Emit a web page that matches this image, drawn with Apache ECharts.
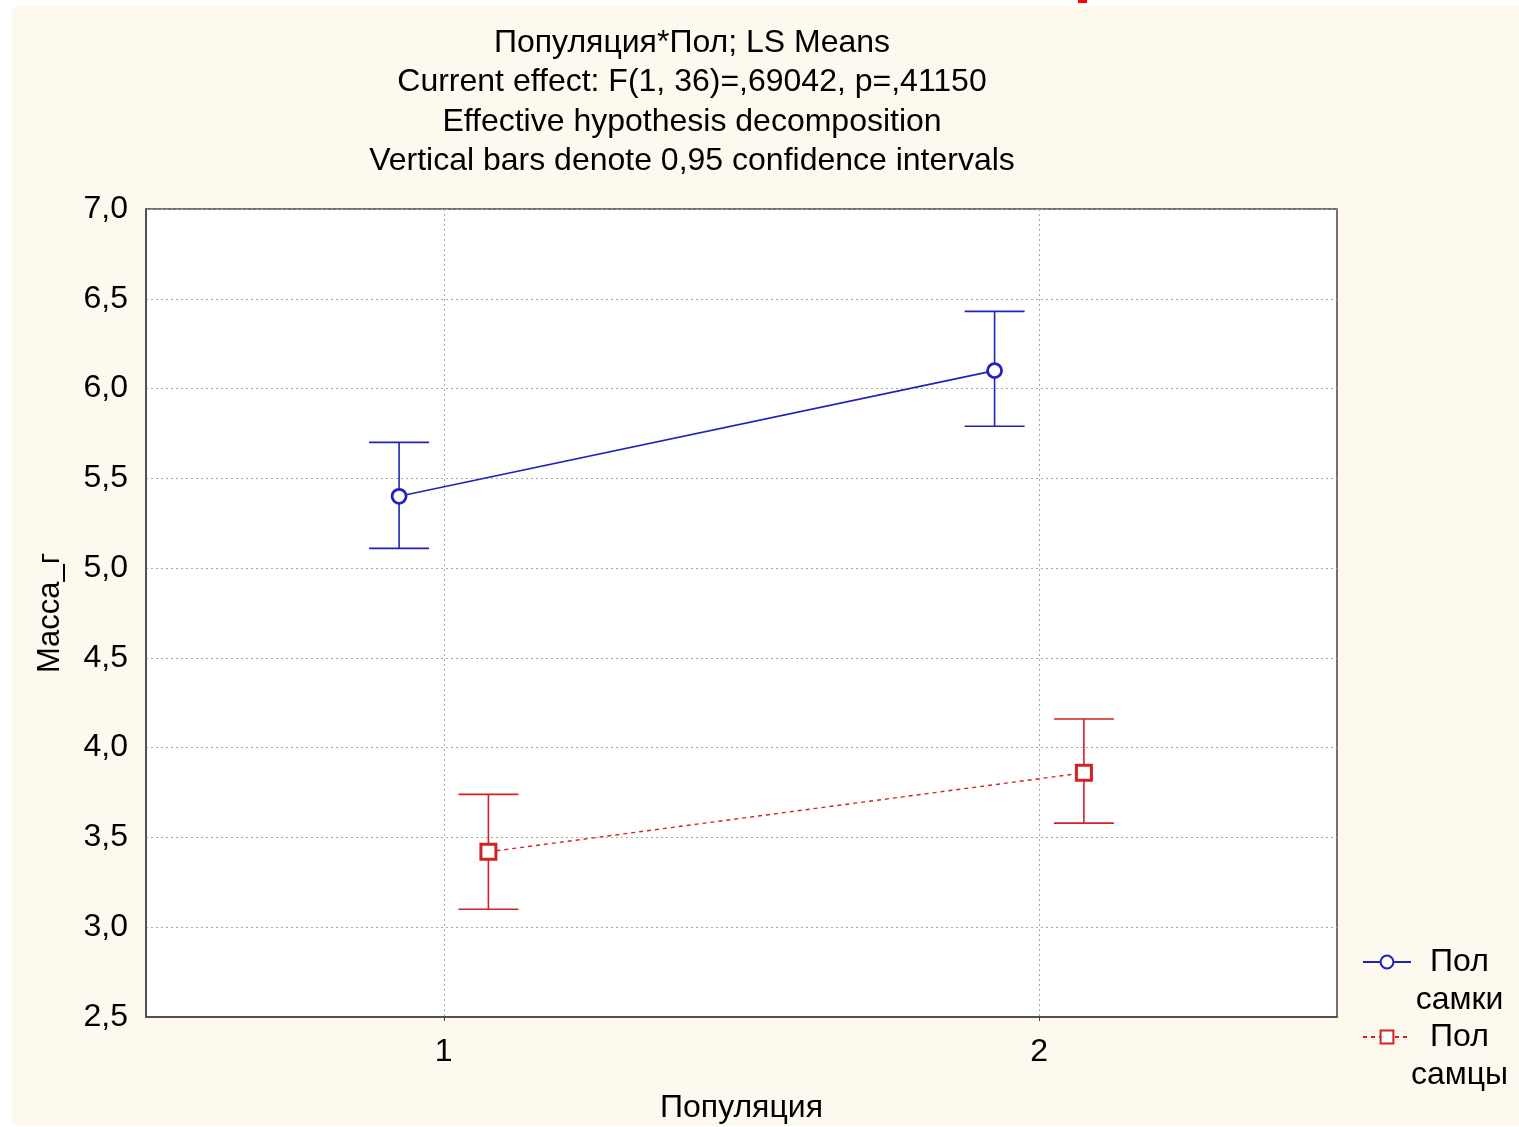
<!DOCTYPE html>
<html>
<head>
<meta charset="utf-8">
<script src="https://cdn.jsdelivr.net/npm/echarts@6/dist/echarts.min.js"></script>
<style>
html,body{margin:0;padding:0;background:#ffffff;}
#bg{position:absolute;left:12px;top:7px;width:1507px;height:1119px;background:#fef9ee;}
#chart{position:absolute;left:0;top:0;width:1519px;height:1127px;}
</style>
</head>
<body>
<div id="bg"></div>
<div id="chart"></div>
<script>
// ---- data ----
const titleLines = [
  'Популяция*Пол; LS Means',
  'Current effect: F(1, 36)=,69042, p=,41150',
  'Effective hypothesis decomposition',
  'Vertical bars denote 0,95 confidence intervals'
];
const populations = [1, 2];
const seriesNames = ['самки', 'самцы'];
const femaleMean = [5.40, 6.10];
const femaleLow  = [5.11, 5.79];
const femaleHigh = [5.70, 6.43];
const maleMean = [3.42, 3.86];
const maleLow  = [3.10, 3.58];
const maleHigh = [3.74, 4.16];
const dodge = [-0.075, 0.075]; // horizontal shift of each group around the population
const yTicks = [2.5, 7.0, 0.5]; // min, max, step

const BLUE = '#2222b8';
const RED = '#d42222';
const FONT = 'Liberation Sans, Arial, sans-serif';

const chart = echarts.init(document.getElementById('chart'), null, {renderer: 'canvas'});

function pts(mean, d) { return populations.map((p, i) => [p + d, mean[i]]); }
function bars(low, high, d) { return populations.map((p, i) => [p + d, low[i], high[i]]); }

function errRender(color) {
  return function (params, api) {
    const x = api.value(0);
    const lo = api.coord([x, api.value(1)]);
    const hi = api.coord([x, api.value(2)]);
    const cap = 30;
    const style = {stroke: color, lineWidth: 1.6};
    return {
      type: 'group',
      children: [
        {type: 'line', shape: {x1: lo[0], y1: lo[1], x2: hi[0], y2: hi[1]}, style: style},
        {type: 'line', shape: {x1: lo[0] - cap, y1: lo[1], x2: lo[0] + cap, y2: lo[1]}, style: style},
        {type: 'line', shape: {x1: hi[0] - cap, y1: hi[1], x2: hi[0] + cap, y2: hi[1]}, style: style}
      ]
    };
  };
}

function legendFor(name, top) {
  return {
    data: [name],
    orient: 'vertical',
    left: 1362,
    top: top,
    padding: 0,
    itemWidth: 48,
    itemHeight: 16,
    itemGap: 0,
    formatter: n => '{a|Пол}\n{a|' + n + '}',
    textStyle: {
      fontFamily: FONT, fontSize: 32, color: '#000', lineHeight: 38,
      padding: [38, 0, 0, 0],
      rich: {a: {fontFamily: FONT, fontSize: 32, color: '#000', lineHeight: 38, width: 87, align: 'center'}}
    }
  };
}

const option = {
  backgroundColor: 'transparent',
  animation: false,
  title: {
    text: titleLines.join('\n'),
    left: 687,
    top: 18,
    textAlign: 'center',
    textStyle: {fontFamily: FONT, fontSize: 32, fontWeight: 'normal', color: '#000', lineHeight: 39.5}
  },
  legend: [legendFor(seriesNames[0], 905), legendFor(seriesNames[1], 980)],
  grid: {
    left: 146, top: 209, width: 1191, height: 808,
    show: true, backgroundColor: '#ffffff', borderColor: '#444444', borderWidth: 1.5,
    containLabel: false,
    outerBoundsMode: 'none'
  },
  xAxis: {
    type: 'value',
    min: 0.5, max: 2.5, interval: 0.5,
    name: 'Популяция',
    nameLocation: 'middle',
    nameGap: 75,
    nameTextStyle: {fontFamily: FONT, fontSize: 32, color: '#000'},
    axisLine: {show: true, lineStyle: {color: '#444444', width: 1.5}},
    axisTick: {show: true, inside: false, length: 4, customValues: populations, lineStyle: {color: '#444444'}},
    axisLabel: {customValues: populations, fontFamily: FONT, fontSize: 32, color: '#000', margin: 19, formatter: v => String(v)},
    splitLine: {show: true, lineStyle: {color: '#a8a8a8', type: [2, 3], width: 1}}
  },
  yAxis: {
    type: 'value',
    min: yTicks[0], max: yTicks[1], interval: yTicks[2],
    name: 'Масса_г',
    nameLocation: 'middle',
    nameGap: 80,
    nameRotate: 90,
    nameTextStyle: {fontFamily: FONT, fontSize: 31, color: '#000'},
    axisLine: {show: true, lineStyle: {color: '#444444', width: 1.5}},
    axisTick: {show: false},
    axisLabel: {fontFamily: FONT, fontSize: 32, color: '#000', margin: 18, formatter: v => v.toFixed(1).replace('.', ',')},
    splitLine: {show: true, lineStyle: {color: '#a8a8a8', type: [2, 3], width: 1}}
  },
  series: [
    {
      name: seriesNames[0], type: 'line', data: pts(femaleMean, dodge[0]),
      symbol: 'circle', symbolSize: 14, z: 5,
      lineStyle: {color: BLUE, width: 1.6, type: 'solid'},
      itemStyle: {color: '#ffffff', borderColor: BLUE, borderWidth: 2.8}
    },
    {
      name: seriesNames[1], type: 'line', data: pts(maleMean, dodge[1]),
      symbol: 'rect', symbolSize: 15, z: 5,
      lineStyle: {color: RED, width: 1.4, type: [4, 4]},
      itemStyle: {color: '#ffffff', borderColor: RED, borderWidth: 3}
    },
    {
      type: 'custom', data: bars(femaleLow, femaleHigh, dodge[0]),
      encode: {x: 0, y: [1, 2]}, renderItem: errRender(BLUE), z: 3, silent: true
    },
    {
      type: 'custom', data: bars(maleLow, maleHigh, dodge[1]),
      encode: {x: 0, y: [1, 2]}, renderItem: errRender(RED), z: 3, silent: true
    }
  ],
  graphic: [
    {type: 'rect', shape: {x: 1078, y: 0, width: 9, height: 3}, style: {fill: '#ff0000'}, silent: true}
  ]
};
chart.setOption(option);
</script>
</body>
</html>
